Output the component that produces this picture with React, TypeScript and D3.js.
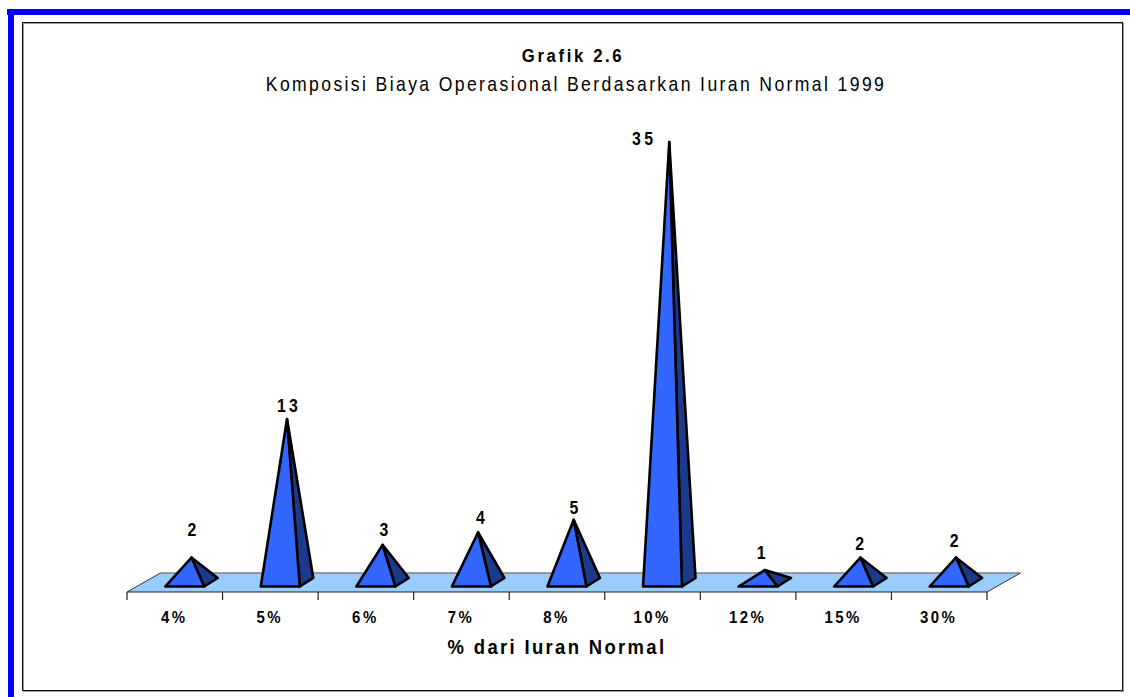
import React from "react";
import * as d3 from "d3";

const categories = ["4%", "5%", "6%", "7%", "8%", "10%", "12%", "15%", "30%"];
const values = [2, 13, 3, 4, 5, 35, 1, 2, 2];
// hand placed data labels in the original, nudge from the apex
const labelDx = [2, 2, 3, 4, 2, -25, -2, 1, 0];
const labelDy = [-22, -7, -9, -8, -6, 3, -11, -8, -11];

const W = 1130;
const H = 697;
const font = "'Liberation Sans', Arial, sans-serif";
const squeeze = 0.88; // source text is a stretched Arial, taller than wide

const x = d3.scaleBand().domain(categories).range([127, 987]).paddingInner(0).paddingOuter(0);
const y = d3.scaleLinear().domain([0, 35]).range([582.7, 142]);

const floorFront = 592;
const floorBack = 573;
const floorSkew = 33.5;
const baseY = 586.5;
const baseW = 39;
const depthX = 13.5;
const depthY = 8.5;

function Label({ x, y, size, spacing, bold = true, children }: any) {
  return (
    <text
      transform={`translate(${x},${y}) scale(${squeeze},1)`}
      textAnchor="middle"
      fontFamily={font}
      fontWeight={bold ? "bold" : "normal"}
      fontSize={size}
      letterSpacing={spacing}
      fill="#000"
    >
      {children}
    </text>
  );
}

export default function App() {
  const poly = d3.line();
  return (
    <svg width={W} height={H} style={{ position: "absolute", left: 0, top: 0, background: "#fff" }}>
      {/* outer blue border */}
      <rect x={7} y={9} width={W - 7} height={6} fill="#0000ff" />
      <rect x={8} y={9} width={6} height={H - 9} fill="#0000ff" />
      {/* chart frame */}
      <rect x={22.5} y={22.5} width={1100} height={668} fill="#fff" stroke="#111" strokeWidth={1} />
      <path d="M23.5 23.5H1122M23.5 23.5V690" stroke="#999" fill="none" />
      <path d="M1123.5 23V691.5H23" stroke="#999" fill="none" />

      <Label x={573} y={61.5} size={19} spacing={3}>Grafik 2.6</Label>
      <Label x={576} y={91} size={20} spacing={2.7} bold={false}>Komposisi Biaya Operasional Berdasarkan Iuran Normal 1999</Label>

      {/* floor */}
      <path
        d={poly([
          [x.range()[0], floorFront],
          [x.range()[0] + floorSkew, floorBack],
          [x.range()[1] + floorSkew, floorBack],
          [x.range()[1], floorFront],
        ] as [number, number][]) + "Z"}
        fill="#99ccff"
      />
      <line x1={x.range()[0] + floorSkew} x2={x.range()[1] + floorSkew} y1={floorBack} y2={floorBack} stroke="#808080" strokeWidth={1.5} />
      <path d={`M${x.range()[0]} ${floorFront}L${x.range()[0] + floorSkew} ${floorBack}M${x.range()[1]} ${floorFront}L${x.range()[1] + floorSkew} ${floorBack}`} stroke="#333" fill="none" />
      <line x1={x.range()[0]} x2={x.range()[1]} y1={floorFront} y2={floorFront} stroke="#222" strokeWidth={1.2} />

      {/* ticks between the bands */}
      {[...categories.map((c) => x(c)!), x.range()[1]].map((t, i) => (
        <line key={i} x1={t} x2={t} y1={floorFront} y2={600} stroke="#222" strokeWidth={1.2} />
      ))}

      {categories.map((c, i) => {
        const left = x(c)! + x.step() * 0.4;
        const right = left + baseW;
        const apexX = left + baseW / 2 + depthX / 2;
        const apexY = y(values[i]);
        return (
          <g key={c}>
            <path
              d={poly([[apexX, apexY], [right, baseY], [right + depthX, baseY - depthY]] as [number, number][]) + "Z"}
              fill="#1b3a8c" stroke="#000" strokeWidth={2.6} strokeLinejoin="round"
            />
            <path
              d={poly([[apexX, apexY], [left, baseY], [right, baseY]] as [number, number][]) + "Z"}
              fill="#3366ff" stroke="#000" strokeWidth={2.6} strokeLinejoin="round"
            />
            <Label x={apexX + labelDx[i]} y={apexY + labelDy[i]} size={18} spacing={3.8}>{values[i]}</Label>
            <Label x={x(c)! + x.bandwidth() / 2 - 0.5} y={622.5} size={17} spacing={2.8}>{c}</Label>
          </g>
        );
      })}

      <Label x={557} y={654} size={21} spacing={2.65}>% dari Iuran Normal</Label>
    </svg>
  );
}
